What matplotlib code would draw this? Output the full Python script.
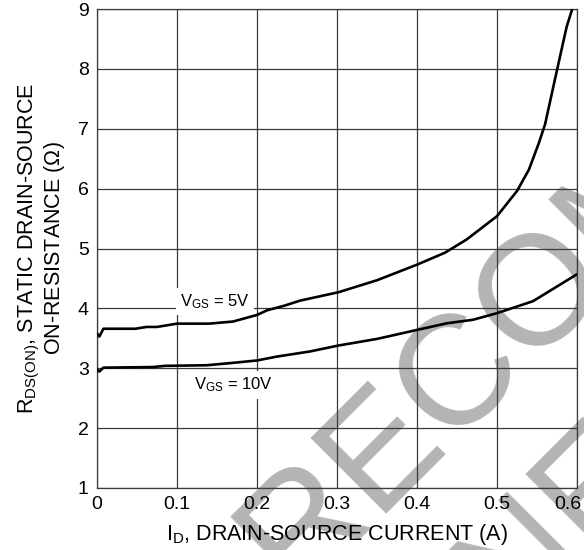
import matplotlib
matplotlib.use("Agg")
import matplotlib.pyplot as plt
import matplotlib.transforms as mtransforms

plt.rcParams['font.family'] = ['Liberation Sans', 'DejaVu Sans']
plt.rcParams['mathtext.fontset'] = 'custom'
plt.rcParams['mathtext.rm'] = 'Liberation Sans'
plt.rcParams['mathtext.it'] = 'Liberation Sans'
plt.rcParams['mathtext.default'] = 'regular'

# Data
id_5v = [0, 0.003, 0.008, 0.048, 0.062, 0.075, 0.1, 0.14, 0.17, 0.2, 0.213, 0.233,
         0.254, 0.302, 0.35, 0.4, 0.435, 0.462, 0.5, 0.525, 0.54, 0.552, 0.56,
         0.575, 0.587, 0.595]
r_5v = [3.58, 3.53, 3.66, 3.66, 3.69, 3.69, 3.745, 3.745, 3.78, 3.89, 3.97, 4.04,
        4.13, 4.27, 4.47, 4.73, 4.93, 5.15, 5.54, 5.96, 6.32, 6.75, 7.07,
        7.98, 8.7, 9.04]
id_10v = [0, 0.003, 0.008, 0.07, 0.085, 0.137, 0.17, 0.2, 0.225, 0.266, 0.302,
          0.35, 0.4, 0.437, 0.47, 0.5, 0.545, 0.6]
r_10v = [2.98, 2.945, 3.01, 3.02, 3.04, 3.05, 3.09, 3.13, 3.195, 3.28, 3.38,
         3.49, 3.64, 3.75, 3.81, 3.92, 4.12, 4.57]
x_ticks = [0, 0.1, 0.2, 0.3, 0.4, 0.5, 0.6]
x_tick_labels = ['0', '0.1', '0.2', '0.3', '0.4', '0.5', '0.6']
y_ticks = [1, 2, 3, 4, 5, 6, 7, 8, 9]
label_5v = r'V$_{GS}$ = 5V'
label_10v = r'V$_{GS}$ = 10V'
watermark_1 = 'NOT RECOMMENDED'
watermark_2 = 'FOR NEW DESIGN'

W, H = 584, 550
fig = plt.figure(figsize=(W / 100, H / 100), dpi=100, facecolor='white')
ax = fig.add_axes([97 / W, 1 - 488 / H, 480 / W, 479 / H])
ax.set_facecolor('none')

# watermark (behind everything), two centred lines at 45 degrees
wm = dict(fontsize=112, color='#b4b4b4', rotation=45, rotation_mode='anchor',
          ha='center', va='baseline', zorder=-10)
fig.text(610.7 / W, 1 - 289.3 / H, watermark_1, **wm)
fig.text(735.8 / W, 1 - 414.4 / H, watermark_2, **wm)

gc = '#3a3a3a'
ax.set_xlim(0, 0.6)
ax.set_ylim(1, 9)
ax.set_xticks(x_ticks)
ax.set_xticklabels(x_tick_labels)
ax.set_yticks(y_ticks)
ax.grid(True, color=gc, linewidth=0.9)
ax.set_axisbelow(True)
ax.tick_params(length=0, labelsize=14, pad=6, colors='black')
for s in ax.spines.values():
    s.set_color(gc)
    s.set_linewidth(0.9)

# last x tick label nudged left to stay inside the figure
last = ax.get_xticklabels()[-1]
last.set_transform(last.get_transform() +
                   mtransforms.ScaledTranslation(-9 / 100, 0, fig.dpi_scale_trans))

ax.plot(id_5v, r_5v, color='black', linewidth=1.9, zorder=3)
ax.plot(id_10v, r_10v, color='black', linewidth=1.9, zorder=3)

box = dict(boxstyle='square,pad=0.25', fc='white', ec='none')
ax.text(0.147, 4.12, label_5v, fontsize=12, ha='center', va='center', bbox=box, zorder=2)
ax.text(0.17, 2.72, label_10v, fontsize=12, ha='center', va='center', bbox=box, zorder=2)

ax.set_xlabel(r'I$_D$, DRAIN-SOURCE CURRENT (A)', fontsize=15.5, labelpad=6)
ax.set_ylabel('R$_{DS(ON)}$, STATIC DRAIN-SOURCE\nON-RESISTANCE ($\\Omega$)',
              fontsize=15.5, labelpad=8, linespacing=1.0)

fig.savefig('out.png', dpi=100)
